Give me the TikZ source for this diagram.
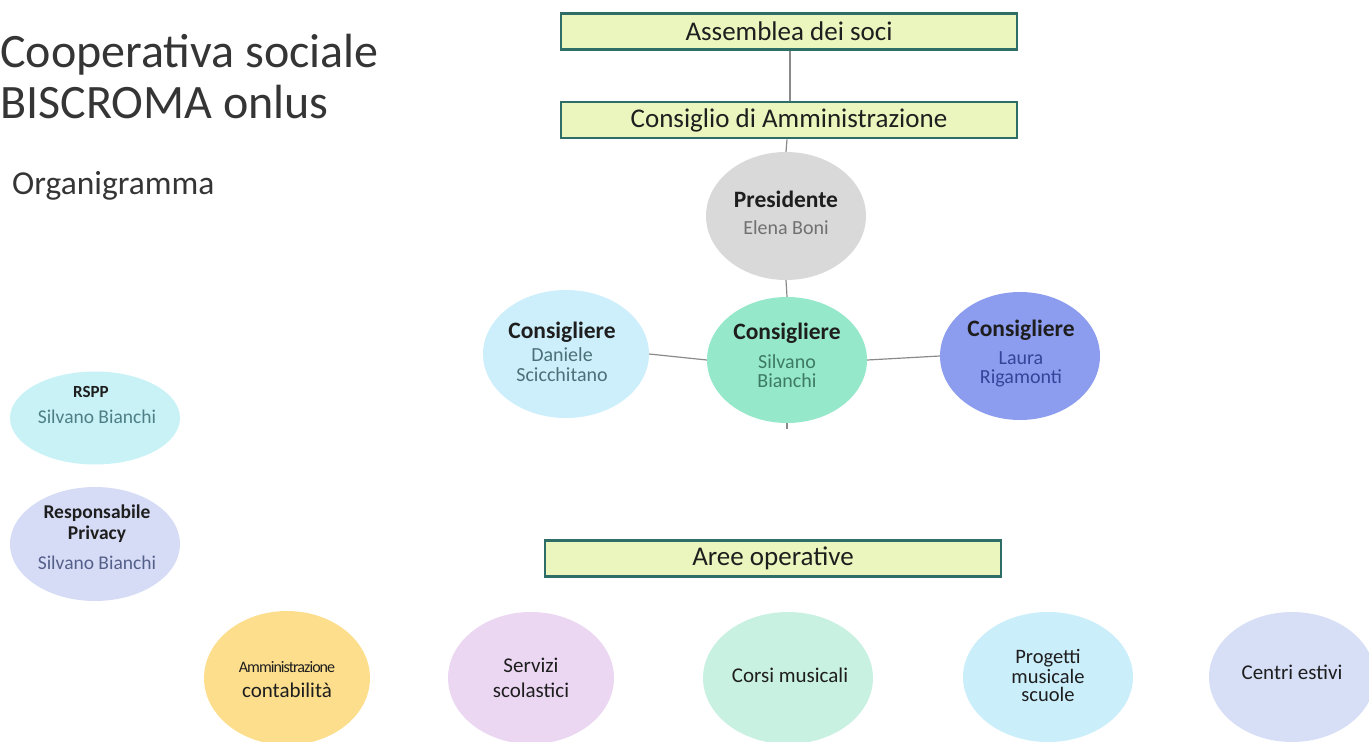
\documentclass[tikz,border=0pt]{standalone}
\usepackage{fontspec}
\setmainfont{Carlito}
\usetikzlibrary{shapes.geometric}
\definecolor{boxfill}{HTML}{EAF6BE}
\definecolor{boxline}{HTML}{2E6E67}
\definecolor{conn}{HTML}{8A8A8A}
\definecolor{cpres}{HTML}{D9D9D9}
\definecolor{csilv}{HTML}{95E8CA}
\definecolor{cdan}{HTML}{CDEFFB}
\definecolor{claura}{HTML}{8C9CEE}
\definecolor{crspp}{HTML}{C8F2F6}
\definecolor{cpriv}{HTML}{D6DCF6}
\definecolor{camm}{HTML}{FCDE8C}
\definecolor{cserv}{HTML}{EBD7F2}
\definecolor{ccorsi}{HTML}{C9F1E1}
\definecolor{cprog}{HTML}{CBEEFB}
\definecolor{ccentri}{HTML}{D7DFF7}
\definecolor{tgray}{HTML}{707070}
\definecolor{tdan}{HTML}{4B7079}
\definecolor{tsilv}{HTML}{3D7A66}
\definecolor{tlaura}{HTML}{34449A}
\definecolor{trspp}{HTML}{4F7F86}
\definecolor{tpriv}{HTML}{55608A}
\definecolor{tdark}{HTML}{1E1E1E}
\begin{document}
\begin{tikzpicture}[x=1pt,y=-1pt,
  topbox/.style={draw=boxline,line width=2.6pt,fill=boxfill,minimum width=456pt,minimum height=36pt,inner sep=0pt,font=\fontsize{27}{30}\selectfont,text=tdark},
  blob/.style={ellipse,inner sep=0pt},
  link/.style={draw=conn,line width=1.2pt},
  lbl/.style={anchor=base,inner sep=0pt,text=tdark},
  hd/.style={lbl,font=\bfseries\fontsize{23.5}{26}\selectfont},
  sub/.style={lbl,font=\fontsize{20}{22}\selectfont},
  sidehd/.style={lbl,font=\bfseries\fontsize{19.5}{22}\selectfont},
  sidesub/.style={lbl,font=\fontsize{19.5}{21}\selectfont},
  area/.style={lbl,font=\fontsize{21}{23}\selectfont},
  title/.style={anchor=base west,inner sep=0pt,text=tdark!90!white},
]
\useasboundingbox (0,0) rectangle (1369,742);
\begin{scope}
\clip (0,0) rectangle (1369,742);
% title
\node[title,font=\fontsize{48}{52}\selectfont] (t1) at (0,67) {Cooperativa sociale};
\node[title,font=\fontsize{48}{52}\selectfont] (t2) at (0,118) {BISCROMA onlus};
\node[title,font=\fontsize{33.5}{36}\selectfont] (t3) at (12,194) {Organigramma};

% top boxes
\node[topbox] (ass) at (789,31.5) {Assemblea dei soci};
\node[topbox] (cda) at (789,120) {Consiglio di Amministrazione};
\node[topbox] (aree) at (773,558.5) {Aree operative};

% council ellipses
\node[blob,fill=cpres,minimum width=160pt,minimum height=128pt] (pres) at (786,216) {};
\node[blob,fill=csilv,minimum width=160pt,minimum height=126pt] (silv) at (787,360) {};
\node[blob,fill=cdan,minimum width=166pt,minimum height=128pt] (dan) at (566,354) {};
\node[blob,fill=claura,minimum width=160pt,minimum height=128pt] (laura) at (1020,356) {};
\coordinate (tick) at (787,429);

\node[hd] (presA) at (786,207) {Presidente};
\node[sub,text=tgray] (presB) at (786,234) {Elena Boni};
\node[hd] (silvA) at (787,339) {Consigliere};
\node[sub,text=tsilv] (silvB) at (787,368) {Silvano};
\node[sub,text=tsilv] (silvC) at (787,387) {Bianchi};
\node[hd] (danA) at (562,338) {Consigliere};
\node[sub,text=tdan] (danB) at (562,361) {Daniele};
\node[sub,text=tdan] (danC) at (562,381) {Scicchitano};
\node[hd] (lauraA) at (1021,336) {Consigliere};
\node[sub,text=tlaura] (lauraB) at (1021,364) {Laura};
\node[sub,text=tlaura] (lauraC) at (1021,383) {Rigamonti};

% side
\node[blob,fill=crspp,minimum width=170pt,minimum height=93pt] (rspp) at (95,418) {};
\node[blob,fill=cpriv,minimum width=170pt,minimum height=114pt] (priv) at (95,544) {};
\node[sidehd,font=\bfseries\fontsize{17}{20}\selectfont] (rsppA) at (91,397) {RSPP};
\node[sidesub,text=trspp] (rsppB) at (97,423) {Silvano Bianchi};
\node[sidehd] (privA) at (97,518) {Responsabile};
\node[sidehd] (privB) at (97,539) {Privacy};
\node[sidesub,text=tpriv] (privC) at (97,569) {Silvano Bianchi};

% operative areas
\node[blob,fill=camm,minimum width=166pt,minimum height=134pt] (amm) at (287,678) {};
\node[blob,fill=cserv,minimum width=166pt,minimum height=132pt] (serv) at (531,678) {};
\node[blob,fill=ccorsi,minimum width=170pt,minimum height=132pt] (corsi) at (788,678) {};
\node[blob,fill=cprog,minimum width=170pt,minimum height=130pt] (prog) at (1048,677) {};
\node[blob,fill=ccentri,minimum width=166pt,minimum height=130pt] (centri) at (1292,677) {};

\node[lbl,font=\fontsize{16}{18}\selectfont\addfontfeatures{LetterSpace=-6}] (ammA) at (287,672) {Amministrazione};
\node[area] (ammB) at (287,697) {contabilità};
\node[area] (servA) at (531,672) {Servizi};
\node[area] (servB) at (531,697) {scolastici};
\node[area] (corsiA) at (790,682) {Corsi musicali};
\node[area,font=\fontsize{20.5}{23}\selectfont] (progA) at (1048,663) {Progetti};
\node[area,font=\fontsize{20.5}{23}\selectfont] (progB) at (1048,683) {musicale};
\node[area,font=\fontsize{20.5}{23}\selectfont] (progC) at (1048,701) {scuole};
\node[area] (centriA) at (1292,679) {Centri estivi};
\end{scope}

% connectors
\draw[link] (ass.south -| 790,0) -- (cda.north -| 790,0);
\draw[link] (cda.south -| 787,0) -- (pres.north);
\draw[link] (pres.south) -- (silv.north);
\draw[link] (silv.south) -- (tick);
\draw[link] (dan.east) -- (silv.west);
\draw[link] (silv.east) -- (laura.west);
\end{tikzpicture}
\end{document}
